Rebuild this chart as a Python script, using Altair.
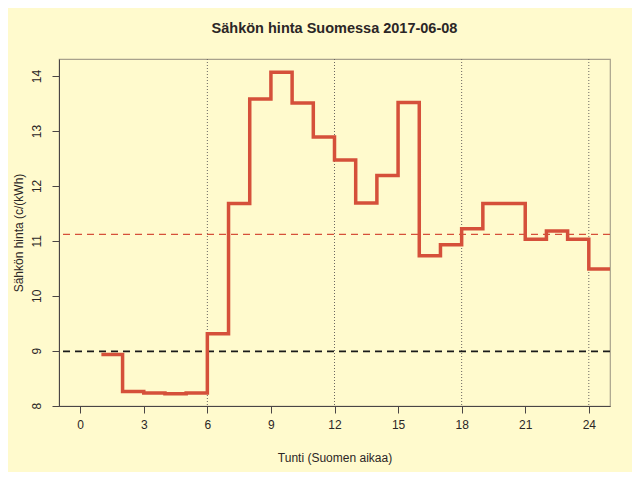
import altair as alt
import pandas as pd

# Hourly spot price (c/kWh), hour start 1..24, last value repeated to close at 25
hours = list(range(1, 26))
prices = [8.93, 8.26, 8.23, 8.22, 8.23, 9.31, 11.68, 13.58, 14.07, 13.51, 12.89,
          12.47, 11.69, 12.19, 13.52, 10.73, 10.93, 11.22, 11.68, 11.68, 11.03,
          11.18, 11.03, 10.49, 10.49]
mean_price = [11.12]
ref_price = [8.99]
vlines = [6, 12, 18, 24]
x_ticks = [0, 3, 6, 9, 12, 15, 18, 21, 24]
y_ticks = [8, 9, 10, 11, 12, 13, 14]

BG = "#FFFACD"
RED = "#D5503A"
FONT = "Liberation Sans"
TXT = "#2b2626"

df = pd.DataFrame({"h": hours, "p": prices})
xs = alt.Scale(domain=[-1, 25], nice=False, zero=False)
ys = alt.Scale(domain=[7.995, 14.31], nice=False, zero=False)

W, H = 551, 347

line = alt.Chart(df).mark_line(interpolate="step-after", color=RED, strokeWidth=3.5).encode(
    x=alt.X("h:Q", scale=xs, axis=alt.Axis(
        values=x_ticks, format="d", title="Tunti (Suomen aikaa)", grid=False,
        domainColor="#4a4545", tickColor="#4a4545", tickSize=7,
        labelFont=FONT, labelFontSize=12, labelColor=TXT, labelPadding=6,
        titleFont=FONT, titleFontSize=12, titleFontWeight="normal", titleColor=TXT,
        titleX=W / 2, titleY=51, titleBaseline="middle", titleAlign="center")),
    y=alt.Y("p:Q", scale=ys, axis=alt.Axis(
        values=y_ticks, format="d", title="Sähkön hinta (c/(kWh)", grid=False,
        domainColor="#4a4545", tickColor="#4a4545", tickSize=7,
        labelFont=FONT, labelFontSize=12, labelColor=TXT, labelAngle=270,
        labelAlign="center", labelBaseline="bottom", labelPadding=9,
        titleFont=FONT, titleFontSize=12, titleFontWeight="normal", titleColor=TXT,
        titleX=-41, titleY=H / 2, titleBaseline="middle", titleAlign="center",
        titleAngle=270)),
)

vdf = pd.DataFrame({"v": vlines})
vr = alt.Chart(vdf).mark_rule(color="#6a6560", strokeWidth=1, strokeDash=[1, 2]).encode(
    x=alt.X("v:Q", scale=xs)
)

mdf = pd.DataFrame({"m": mean_price})
mr = alt.Chart(mdf).mark_rule(color=RED, strokeWidth=1.3, strokeDash=[7, 5]).encode(
    y=alt.Y("m:Q", scale=ys)
)
rdf = pd.DataFrame({"r": ref_price})
rr = alt.Chart(rdf).mark_rule(color="#1a1a1a", strokeWidth=1.8, strokeDash=[7, 5]).encode(
    y=alt.Y("r:Q", scale=ys)
)

chart = alt.layer(vr, mr, rr, line).properties(
    width=W, height=H,
    autosize=alt.AutoSizeParams(type="none"),
    padding={"left": 51, "top": 51, "right": 22, "bottom": 66},
    background=BG,
    title=alt.TitleParams("Sähkön hinta Suomessa 2017-06-08", font=FONT, fontSize=14.5,
                          fontWeight="bold", color=TXT, anchor="middle", offset=22),
).configure_view(stroke="#a8a18c", strokeWidth=1.2)

chart.save("out.html", embed_options={"renderer": "svg", "actions": False})
